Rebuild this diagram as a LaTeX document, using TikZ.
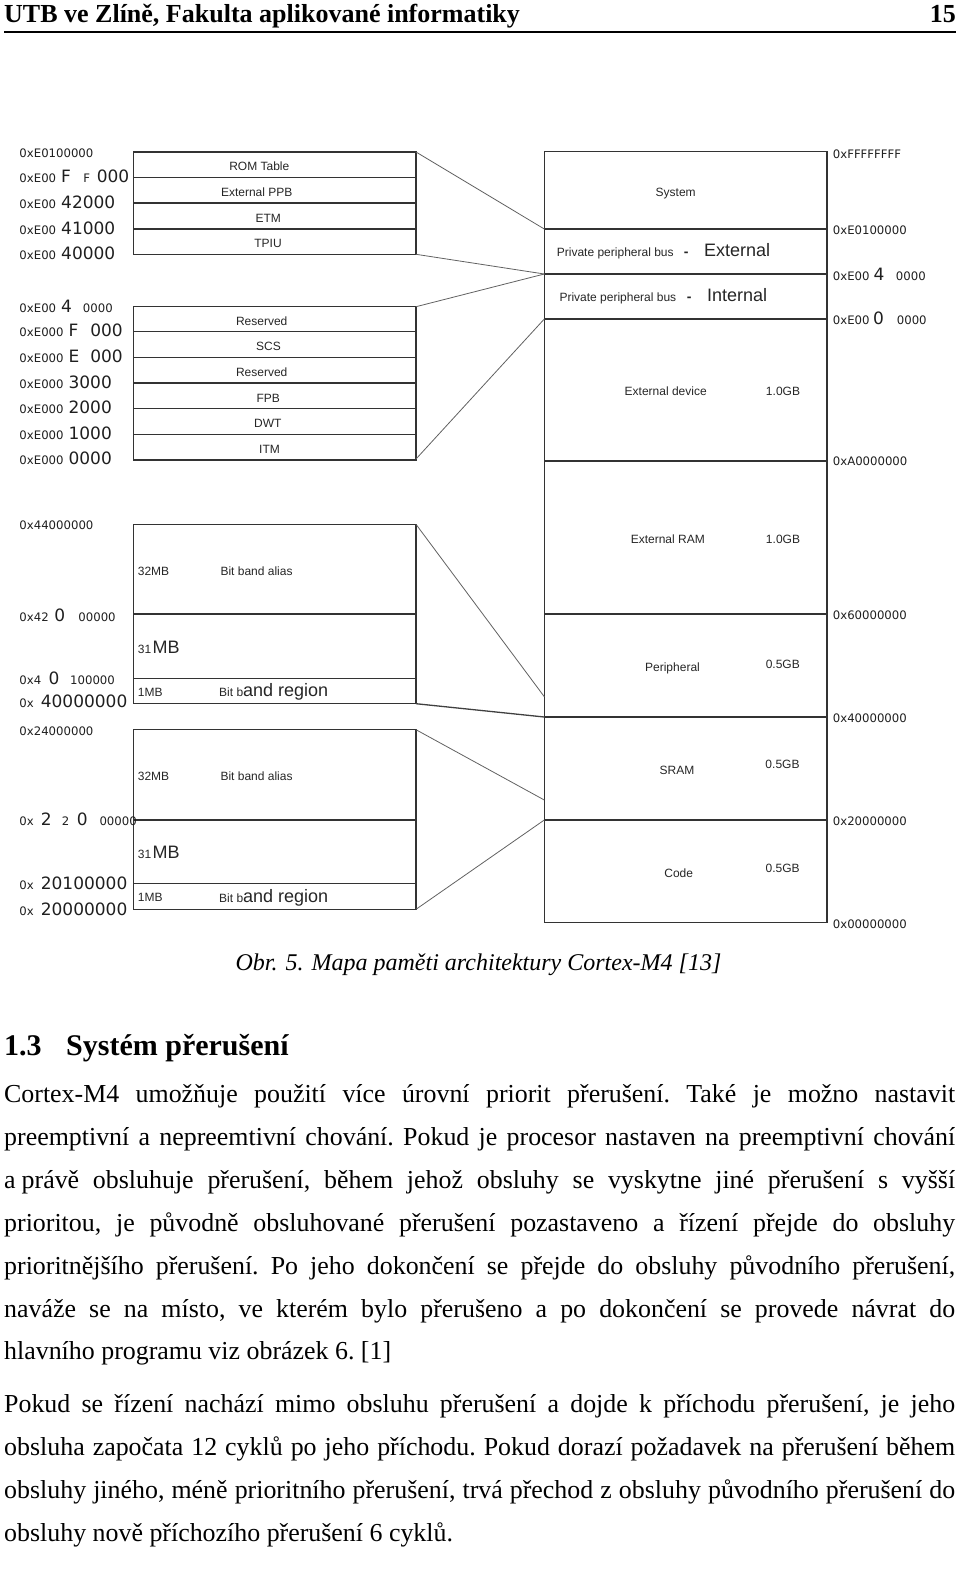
\documentclass[tikz,border=0pt]{standalone}
\usepackage{fontspec}
\setmainfont{Liberation Serif}
\newfontfamily\arialf{Liberation Sans}
\newfontfamily\dejavuf{DejaVu Sans}
\newcommand\myfs[1]{\fontsize{#1pt}{#1pt}\selectfont}
\newcommand\adrS{\dejavuf\myfs{11.7}}
\newcommand\adrB{\dejavuf\myfs{17}}
\newcommand\lbS{\arialf\myfs{12}}
\newcommand\lbB{\arialf\myfs{18}}
\newcommand\bodyf{\myfs{25.9}\frenchspacing}
\begin{document}
\begin{tikzpicture}[x=1pt,y=-1pt,
  adr/.style={anchor=west,inner sep=0pt,font=\adrS,text=black!88},
  lbl/.style={anchor=base,inner sep=0pt,font=\lbS,text=black!85},
  lblw/.style={anchor=base west,inner sep=0pt,font=\lbS,text=black!85},
  outer/.style={draw=black!80,line width=1.2pt},
  divl/.style={draw=black!80,line width=1.4pt},
  mdiv/.style={draw=black!80,line width=1.8pt},
  conn/.style={draw=black!62,line width=0.8pt},
  bodyline/.style={anchor=base west,inner sep=0pt,font=\bodyf}]
\useasboundingbox (0,0) rectangle (960,1569);

% ---------- header ----------
\node[anchor=base west,inner sep=0pt,font=\bfseries\myfs{26}] (hdr) at (4,22) {UTB ve Zlíně, Fakulta aplikované informatiky};
\node[anchor=base east,inner sep=0pt,font=\bfseries\myfs{26}] (pg) at (956,22) {15};
\coordinate (r1) at (4,32);
\coordinate (r2) at (956,32);
\draw[line width=2.2pt] (r1) -- (r2);

% ---------- upper left boxes ----------
\draw[outer] (133.3,152) rectangle (416,254.3);
\foreach \yy in {177.3,203,229} \draw[divl] (133.3,\yy) -- (416,\yy);
\node[lbl] (t1) at (259.3,170.7) {ROM Table};
\node[lbl] (t2) at (256.7,196.5) {External PPB};
\node[lbl] (t3) at (268.3,222) {ETM};
\node[lbl] (t4) at (268,247.8) {TPIU};

\draw[outer] (133.3,306.7) rectangle (416,460);
\foreach \yy in {331.7,357.3,383,408.3,434.7} \draw[divl] (133.3,\yy) -- (416,\yy);
\node[lbl] (b1) at (261.7,325.7) {Reserved};
\node[lbl] (b2) at (268.5,350.7) {SCS};
\node[lbl] (b3) at (261.7,376.3) {Reserved};
\node[lbl] (b4) at (268.3,402) {FPB};
\node[lbl] (b5) at (267.8,427.3) {DWT};
\node[lbl] (b6) at (269.5,453.7) {ITM};

% left addresses (top)
\node[adr] (a1) at (19.3,153.3) {0xE0100000};
\node[adr] (a2) at (19.3,176.7) {{\adrS 0xE00}\hspace*{5.1pt}{\adrB F}\hspace*{12.4pt}{\adrS F}\hspace*{6.7pt}{\adrB 000}};
\node[adr] (a3) at (19.3,202.2) {{\adrS 0xE00}\hspace*{5.1pt}{\adrB 42000}};
\node[adr] (a4) at (19.3,228) {{\adrS 0xE00}\hspace*{5.1pt}{\adrB 41000}};
\node[adr] (a5) at (19.3,253.7) {{\adrS 0xE00}\hspace*{5.1pt}{\adrB 40000}};
\node[adr] (a6) at (19.3,306) {{\adrS 0xE00}\hspace*{5.1pt}{\adrB 4}\hspace*{10.9pt}{\adrS 0000}};
\node[adr] (a7) at (19.3,330.8) {{\adrS 0xE000}\hspace*{5pt}{\adrB F}\hspace*{12pt}{\adrB 000}};
\node[adr] (a8) at (19.3,356.3) {{\adrS 0xE000}\hspace*{5pt}{\adrB E}\hspace*{11pt}{\adrB 000}};
\node[adr] (a9) at (19.3,382) {{\adrS 0xE000}\hspace*{5pt}{\adrB 3000}};
\node[adr] (a10) at (19.3,407.8) {{\adrS 0xE000}\hspace*{5pt}{\adrB 2000}};
\node[adr] (a11) at (19.3,433.7) {{\adrS 0xE000}\hspace*{5pt}{\adrB 1000}};
\node[adr] (a12) at (19.3,458.8) {{\adrS 0xE000}\hspace*{5pt}{\adrB 0000}};

% ---------- main column ----------
\draw[outer] (544.3,151.7) rectangle (827,922.7);
\foreach \yy in {229,274,319,460.7,614,717,820} \draw[mdiv] (544.3,\yy) -- (827,\yy);
\node[lbl] (mSys) at (675.7,196.2) {System};
\node[lblw] (pe1) at (556.7,256) {Private peripheral bus};
\node[lbl,font=\arialf\bfseries\myfs{14}] (pe2) at (686.3,256) {-};
\node[lblw,font=\lbB] (pe3) at (704,256.5) {External};
\node[lblw] (pi1) at (559.3,301) {Private peripheral bus};
\node[lbl,font=\arialf\bfseries\myfs{14}] (pi2) at (689.3,301) {-};
\node[lblw,font=\lbB] (pi3) at (707,301.5) {Internal};
\node[lbl] (mExD) at (665.7,395) {External device};
\node[lbl] (mExDs) at (783,395) {1.0GB};
\node[lbl] (mRam) at (667.8,543.3) {External RAM};
\node[lbl] (mRams) at (783,543.3) {1.0GB};
\node[lbl] (mPer) at (672.5,671) {Peripheral};
\node[lbl] (mPers) at (782.8,668.3) {0.5GB};
\node[lbl] (mSr) at (677,774.3) {SRAM};
\node[lbl] (mSrs) at (782.5,768.3) {0.5GB};
\node[lbl] (mCo) at (678.7,877.3) {Code};
\node[lbl] (mCos) at (782.7,872.7) {0.5GB};

% right addresses
\node[adr] (ra1) at (832.7,153.8) {0xFFFFFFFF};
\node[adr] (ra2) at (832.7,230) {0xE0100000};
\node[adr] (ra3) at (832.7,274.2) {{\adrS 0xE00}\hspace*{4pt}{\adrB 4}\hspace*{11.6pt}{\adrS 0000}};
\node[adr] (ra4) at (832.7,318.3) {{\adrS 0xE00}\hspace*{3.5pt}{\adrB 0}\hspace*{13pt}{\adrS 0000}};
\node[adr] (ra5) at (832.7,461.3) {0xA0000000};
\node[adr] (ra6) at (832.7,615.5) {0x60000000};
\node[adr] (ra7) at (832.7,718) {0x40000000};
\node[adr] (ra8) at (832.7,821.3) {0x20000000};
\node[adr] (ra9) at (832.7,923.8) {0x00000000};

% ---------- bit band boxes ----------
\draw[outer] (133.3,524.3) rectangle (416,703.7);
\foreach \yy in {614,678.7} \draw[divl] (133.3,\yy) -- (416,\yy);
\node[lblw] (p1) at (137.7,575) {32MB};
\node[lblw] (p2) at (220.3,575) {Bit band alias};
\node[lblw] (p3) at (137.7,653.3) {{\lbS 31}\hspace*{1.5pt}{\lbB MB}};
\node[lblw] (p4) at (137.7,696.3) {1MB};
\node[lblw] (p5) at (219,696.8) {{\lbS Bit b}{\lbB and region}};

\draw[outer] (133.3,729.7) rectangle (416,909.3);
\foreach \yy in {820,883.7} \draw[divl] (133.3,\yy) -- (416,\yy);
\node[lblw] (q1) at (137.7,780.7) {32MB};
\node[lblw] (q2) at (220.3,780.7) {Bit band alias};
\node[lblw] (q3) at (137.7,858.3) {{\lbS 31}\hspace*{1.5pt}{\lbB MB}};
\node[lblw] (q4) at (137.7,901.7) {1MB};
\node[lblw] (q5) at (219,902.2) {{\lbS Bit b}{\lbB and region}};

% left addresses (bottom)
\node[adr] (c1) at (19.3,525.5) {0x44000000};
\node[adr] (c2) at (19.3,615) {{\adrS 0x42}\hspace*{5.7pt}{\adrB 0}\hspace*{13.2pt}{\adrS 00000}};
\node[adr] (c3) at (19.3,678.8) {{\adrS 0x4}\hspace*{7.2pt}{\adrB 0}\hspace*{10.9pt}{\adrS 100000}};
\node[adr] (c4) at (19.3,701.7) {{\adrS 0x}\hspace*{7pt}{\adrB 40000000}};
\node[adr] (c5) at (19.3,730.8) {0x24000000};
\node[adr] (c6) at (19.3,819.7) {{\adrS 0x}\hspace*{7pt}{\adrB 2}\hspace*{10.2pt}{\adrS 2}\hspace*{7.6pt}{\adrB 0}\hspace*{11.8pt}{\adrS 00000}};
\node[adr] (c7) at (19.3,883.3) {{\adrS 0x}\hspace*{7pt}{\adrB 20100000}};
\node[adr] (c8) at (19.3,908.8) {{\adrS 0x}\hspace*{7pt}{\adrB 20000000}};

% ---------- connectors ----------
\coordinate (tlA) at (416,152);
\coordinate (tlB) at (416,254.3);
\coordinate (blA) at (416,306.7);
\coordinate (blB) at (416,459);
\coordinate (m1) at (544.3,229);
\coordinate (m2) at (544.3,274);
\coordinate (m3) at (544.3,319);
\coordinate (bbA) at (416,524.3);
\coordinate (bbB) at (416,703.7);
\coordinate (bcA) at (416,729.7);
\coordinate (bcB) at (416,909.3);
\coordinate (mP) at (544.3,696.7);
\coordinate (m40) at (544.3,717);
\coordinate (mS) at (544.3,800);
\coordinate (m20) at (544.3,820);
\draw[conn] (tlA) -- (m1);
\draw[conn] (tlB) -- (m2);
\draw[conn] (blA) -- (m2);
\draw[conn] (blB) -- (m3);
\draw[conn] (bbA) -- (mP);
\draw[conn,line width=1.3pt,draw=black!75] (bbB) -- (m40);
\draw[conn] (bcA) -- (mS);
\draw[conn] (bcB) -- (m20);

% ---------- caption ----------
\node[anchor=base,inner sep=0pt,font=\itshape\myfs{24}] (cap) at (478.5,970) {Obr. 5. Mapa paměti architektury Cortex-M4 [13]};

% ---------- section ----------
\node[anchor=base west,inner sep=0pt,font=\bfseries\myfs{30}] (h1) at (4,1055) {1.3};
\node[anchor=base west,inner sep=0pt,font=\bfseries\myfs{30}] (h2) at (66,1055) {Systém přerušení};

\node[bodyline] (l1) at (4,1102) {\makebox[951pt][s]{Cortex-M4 umožňuje použití více úrovní priorit přerušení. Také je možno nastavit}};
\node[bodyline] (l2) at (4,1145) {\makebox[951pt][s]{preemptivní a nepreemtivní chování. Pokud je procesor nastaven na preemptivní chování}};
\node[bodyline] (l3) at (4,1188) {\makebox[951pt][s]{a\hspace*{6pt}právě obsluhuje přerušení, během jehož obsluhy se vyskytne jiné přerušení s vyšší}};
\node[bodyline] (l4) at (4,1231) {\makebox[951pt][s]{prioritou, je původně obsluhované přerušení pozastaveno a řízení přejde do obsluhy}};
\node[bodyline] (l5) at (4,1274) {\makebox[951pt][s]{prioritnějšího přerušení. Po jeho dokončení se přejde do obsluhy původního přerušení,}};
\node[bodyline] (l6) at (4,1317) {\makebox[951pt][s]{naváže se na místo, ve kterém bylo přerušeno a po dokončení se provede návrat do}};
\node[bodyline] (l7) at (4,1359.5) {hlavního programu viz obrázek 6. [1]};
\node[bodyline] (l8) at (4,1412) {\makebox[951pt][s]{Pokud se řízení nachází mimo obsluhu přerušení a dojde k příchodu přerušení, je jeho}};
\node[bodyline] (l9) at (4,1455) {\makebox[951pt][s]{obsluha započata 12 cyklů po jeho příchodu. Pokud dorazí požadavek na přerušení během}};
\node[bodyline] (l10) at (4,1498) {\makebox[951pt][s]{obsluhy jiného, méně prioritního přerušení, trvá přechod z obsluhy původního přerušení do}};
\node[bodyline] (l11) at (4,1541) {obsluhy nově příchozího přerušení 6 cyklů.};
\end{tikzpicture}
\end{document}
